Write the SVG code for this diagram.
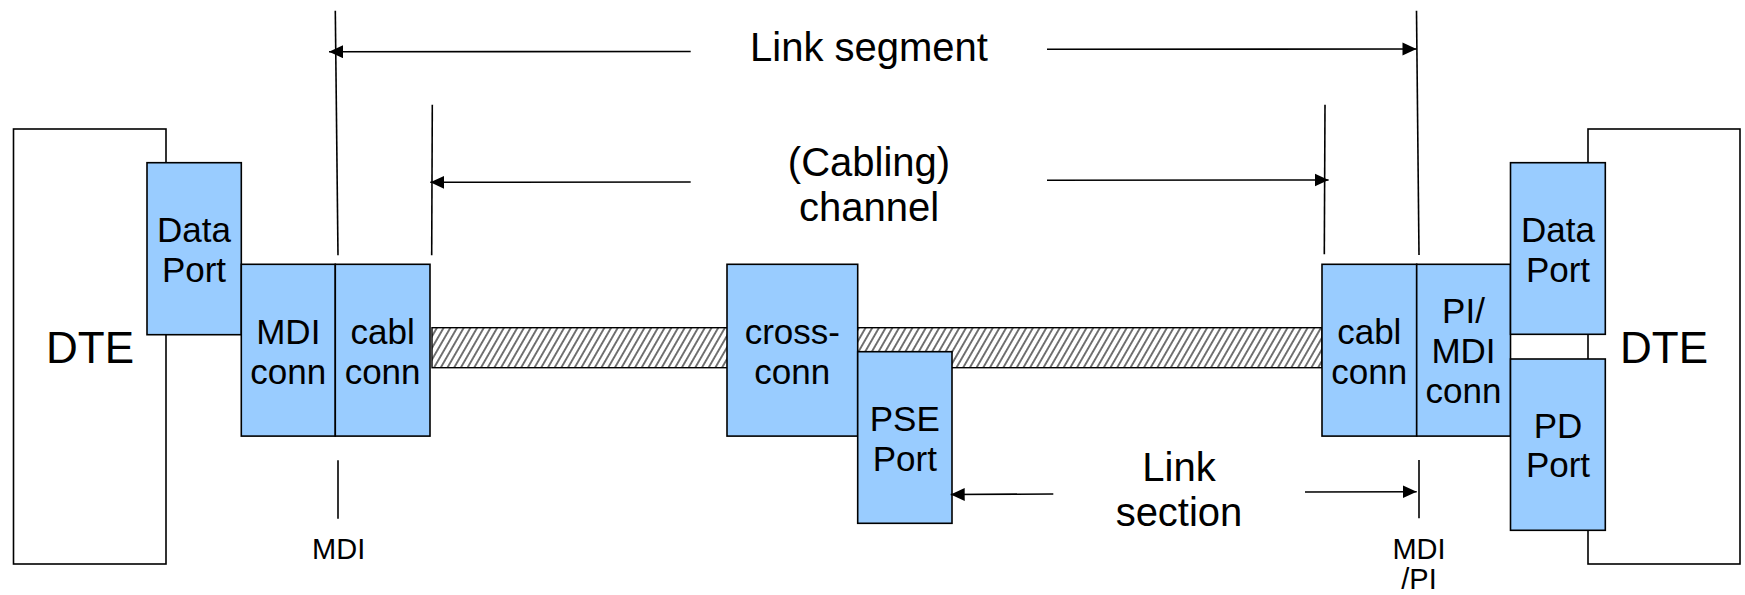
<svg xmlns="http://www.w3.org/2000/svg" width="1745" height="595" viewBox="0 0 1745 595">
  <style>
    .dte { fill: #ffffff; stroke: #000000; stroke-width: 1.6; }
    .box { fill: #99ccff; stroke: #000000; stroke-width: 1.6; }
    .ln { stroke: #000000; stroke-width: 1.6; fill: none; }
    .arr { stroke: #000000; stroke-width: 1.6; fill: none; marker-end: url(#ah); }
    text { font-family: "Liberation Sans", Arial, sans-serif; fill: #000000; text-anchor: middle; }
    .t35 { font-size: 35px; }
    .t44 { font-size: 44px; }
    .t40 { font-size: 40px; }
    .t29 { font-size: 29px; }
  </style>
  <defs>
    <marker id="ah" markerUnits="userSpaceOnUse" markerWidth="15" markerHeight="14" refX="14" refY="6.5" orient="auto">
      <path d="M0,0 L14,6.5 L0,13 z" fill="#000000"/>
    </marker>
    <pattern id="hatch" patternUnits="userSpaceOnUse" width="5.8" height="12" patternTransform="rotate(30)">
      <line x1="2.9" y1="-1" x2="2.9" y2="13" stroke="#000000" stroke-width="1.1"/>
    </pattern>
  </defs>

  <!-- cable (hatched band) -->
  <g id="cable">
    <rect x="432" y="327.7" width="890" height="40" fill="#ffffff"/>
    <rect x="432" y="327.7" width="890" height="40" fill="url(#hatch)" stroke="#000000" stroke-width="1.4"/>
  </g>

  <g id="dte-left">
    <rect class="dte" x="13.5" y="129" width="152.5" height="435"/>
    <text class="t44" x="90" y="363.3">DTE</text>
  </g>
  <g id="dte-right">
    <rect class="dte" x="1588" y="129" width="152" height="435"/>
    <text class="t44" x="1664" y="363.3">DTE</text>
  </g>

  <g id="dataport-left">
    <rect class="box" x="147" y="162.7" width="94.3" height="172"/>
    <text class="t35" x="194" y="241.7">Data</text>
    <text class="t35" x="194" y="281.7">Port</text>
  </g>
  <g id="mdiconn-left">
    <rect class="box" x="241.3" y="264.3" width="94" height="171.8"/>
    <text class="t35" x="288.3" y="343.8">MDI</text>
    <text class="t35" x="288.3" y="383.5">conn</text>
  </g>
  <g id="cablconn-left">
    <rect class="box" x="335.3" y="264.3" width="94.7" height="171.8"/>
    <text class="t35" x="382.6" y="343.5">cabl</text>
    <text class="t35" x="382.6" y="383.5">conn</text>
  </g>
  <g id="crossconn">
    <rect class="box" x="727" y="264.3" width="130.7" height="171.8"/>
    <text class="t35" x="792.3" y="343.5">cross-</text>
    <text class="t35" x="792.3" y="383.5">conn</text>
  </g>
  <g id="pseport">
    <rect class="box" x="857.7" y="351.7" width="94.3" height="171.6"/>
    <text class="t35" x="904.8" y="431">PSE</text>
    <text class="t35" x="904.8" y="470.7">Port</text>
  </g>
  <g id="cablconn-right">
    <rect class="box" x="1322" y="264.3" width="94.7" height="171.8"/>
    <text class="t35" x="1369.3" y="343.5">cabl</text>
    <text class="t35" x="1369.3" y="383.5">conn</text>
  </g>
  <g id="pimdiconn-right">
    <rect class="box" x="1416.7" y="264.3" width="93.8" height="171.8"/>
    <text class="t35" x="1463.5" y="323.3">PI/</text>
    <text class="t35" x="1463.5" y="363.3">MDI</text>
    <text class="t35" x="1463.5" y="403.3">conn</text>
  </g>
  <g id="dataport-right">
    <rect class="box" x="1510.5" y="162.7" width="94.8" height="171.6"/>
    <text class="t35" x="1558" y="241.7">Data</text>
    <text class="t35" x="1558" y="281.7">Port</text>
  </g>
  <g id="pdport">
    <rect class="box" x="1510.5" y="359" width="94.8" height="171.3"/>
    <text class="t35" x="1558" y="438.3">PD</text>
    <text class="t35" x="1558" y="477.3">Port</text>
  </g>

  <g id="labels">
    <text class="t40" x="869" y="61">Link segment</text>
    <text class="t40" x="869" y="176">(Cabling)</text>
    <text class="t40" x="869" y="221">channel</text>
    <text class="t40" x="1179" y="480.7">Link</text>
    <text class="t40" x="1179" y="526">section</text>
    <text class="t29" x="338.7" y="559.3">MDI</text>
    <text class="t29" x="1419" y="559.3">MDI</text>
    <text class="t29" x="1419" y="589">/PI</text>
  </g>

  <g id="connectors">
    <!-- boundary markers -->
    <line class="ln" x1="335.3" y1="10.7" x2="338" y2="255.3"/>
    <line class="ln" x1="1416.5" y1="10.7" x2="1419" y2="255"/>
    <line class="ln" x1="432.3" y1="104.7" x2="431.7" y2="255.3"/>
    <line class="ln" x1="1325" y1="104.7" x2="1324.3" y2="254.3"/>
    <line class="ln" x1="338" y1="460.3" x2="338" y2="518.7"/>
    <line class="ln" x1="1419" y1="460" x2="1419" y2="518.3"/>
    <!-- Link segment arrows -->
    <line class="arr" x1="690.7" y1="51.5" x2="329" y2="51.7"/>
    <line class="arr" x1="1047" y1="49.3" x2="1416.5" y2="49"/>
    <!-- Cabling channel arrows -->
    <line class="arr" x1="690.7" y1="182" x2="430.3" y2="182.3"/>
    <line class="arr" x1="1047" y1="180.3" x2="1328.6" y2="180"/>
    <!-- Link section arrows -->
    <line class="arr" x1="1053.3" y1="494" x2="950.7" y2="494.5"/>
    <line class="arr" x1="1305" y1="492" x2="1416.7" y2="491.7"/>
  </g>
</svg>
